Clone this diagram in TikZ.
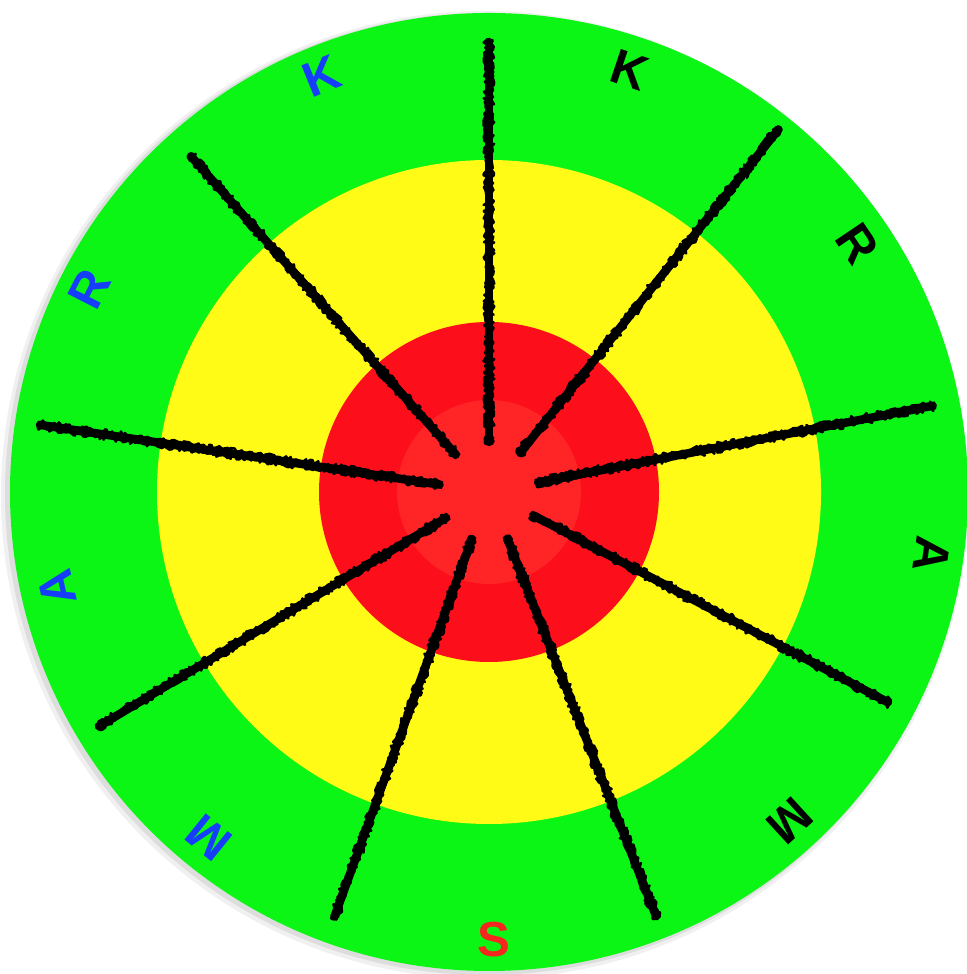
\documentclass[tikz,border=0pt]{standalone}
\usepackage{fontspec}
\setmainfont{Liberation Sans}
\usetikzlibrary{calc,decorations.pathmorphing}

\definecolor{ringgreen}{RGB}{12,246,22}
\definecolor{ringyellow}{RGB}{255,250,22}
\definecolor{ringred}{RGB}{252,14,26}
\definecolor{corered}{RGB}{255,36,38}
\definecolor{letterblue}{RGB}{22,62,250}
\definecolor{letterred}{RGB}{244,38,30}

\tikzset{
  ring/.style={draw=none},
  chalk/.style={line width=2.4pt,line cap=round,draw=black},
  chalkedge/.style={line width=0.7pt,line join=round,line cap=round,draw=black,decorate,
    decoration={random steps,segment length=0.6pt,amplitude=0.7pt}},
  letter/.style={font=\fontsize{14}{16}\selectfont\bfseries,inner sep=0pt}
}

\begin{document}
\begin{tikzpicture}
\useasboundingbox (0,0) rectangle (9.66,9.74);
\coordinate (ctr) at (4.89,4.82);
% soft shadow round the board
\fill[black,opacity=0.06] ([xshift=-0.04cm,yshift=-0.03cm]ctr) circle (4.84);
\fill[black,opacity=0.08] ([xshift=-0.03cm,yshift=-0.02cm]ctr) circle (4.81);
% the rings
\fill[ringgreen,ring] (ctr) circle (4.79);
\fill[ringyellow,ring] (ctr) circle (3.32);
\fill[ringred,ring] (ctr) circle (1.70);
\fill[corered,ring] (ctr) circle (0.92);
% spokes (hand drawn, so angle and length vary a little)
\foreach \a/\r in {90/4.52,51.4/4.66,11/4.54,-27.8/4.53,-68.5/4.58,-110/4.54,-149/4.57,171.5/4.56,131.6/4.51}{
  \draw[chalk] ($(ctr)+(\a:0.50)$) -- ($(ctr)+(\a:\r-0.02)$);
  \draw[chalkedge] ($(ctr)+(\a:0.48)+(\a+90:0.03)$) -- ($(ctr)+(\a:\r)+(\a+90:0.03)$);
  \draw[chalkedge] ($(ctr)+(\a:0.48)+(\a-90:0.03)$) -- ($(ctr)+(\a:\r)+(\a-90:0.03)$);
}
% letters
\node[letter,text=black,rotate=-18.5] (lt0) at ($(ctr)+(71.5:4.45)$) {K};
\node[letter,text=black,rotate=-56] (lt1) at ($(ctr)+(34:4.44)$) {R};
\node[letter,text=black,rotate=-98] (lt2) at ($(ctr)+(-8:4.47)$) {A};
\node[letter,text=black,rotate=-137.5] (lt3) at ($(ctr)+(-47.5:4.46)$) {M};
\node[letter,text=letterred] (lt4) at ($(ctr)+(-89.4:4.48)$) {S};
\node[letter,text=letterblue,rotate=141] (lt5) at ($(ctr)+(-129:4.45)$) {M};
\node[letter,text=letterblue,rotate=102.5] (lt6) at ($(ctr)+(-167.5:4.42)$) {A};
\node[letter,text=letterblue,rotate=63] (lt7) at ($(ctr)+(153:4.48)$) {R};
\node[letter,text=letterblue,rotate=22] (lt8) at ($(ctr)+(112:4.48)$) {K};
\end{tikzpicture}
\end{document}
